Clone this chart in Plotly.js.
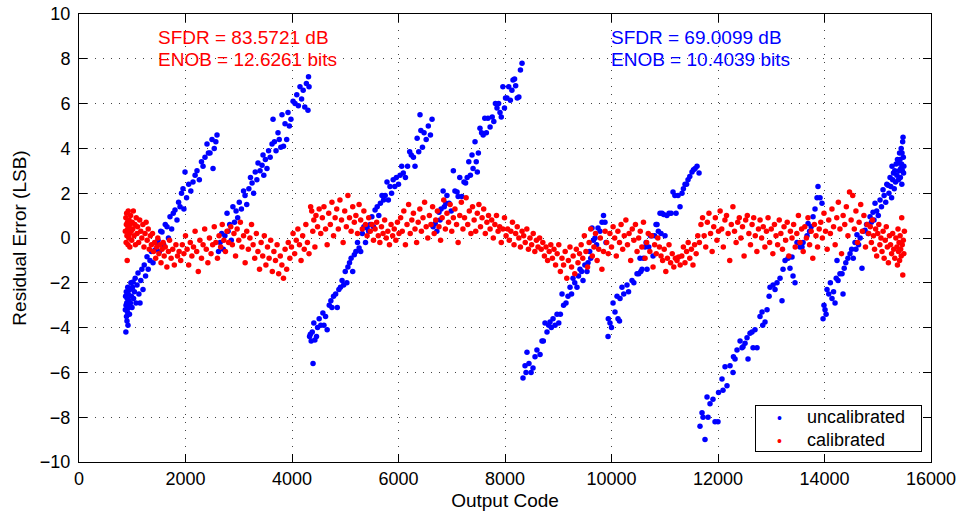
<!DOCTYPE html>
<html>
<head>
<meta charset="utf-8">
<script src="https://cdn.plot.ly/plotly-3.0.1.min.js"></script>
<style>html,body{margin:0;padding:0;background:#fff;}#chart{width:961px;height:514px;}</style>
</head>
<body>
<div id="chart"></div>
<script>
// ---- uncalibrated residual error (blue), [output code, LSB] ----
const uncalSeg1 = [[870,-3.2],[875,-2.6],[880,-4.2],[883,-3.0],[888,-2.4],[892,-3.5],[896,-2.9],[901,-3.7],[905,-2.7],[910,-3.3],[915,-2.2],[920,-3.9],[925,-2.5],[932,-3.1],[940,-2.8],[948,-3.4],[958,-2.3],[966,-2.9],[975,-2.0],[985,-2.6],[995,-3.1],[1005,-2.2],[1014,-1.96],[1025,-2.7],[1040,-2.4],[1055,-1.8],[1070,-2.9],[1090,-2.1],[1108,-1.56],[1125,-2.5],[1146,-2.9],[1160,-1.9],[1180,-1.4],[1202,-2.3],[1225,-1.2],[1250,-1.7],[1277,-0.84],[1300,-1.4],[1333,-1.0],[1360,-0.6],[1390,-1.1],[1427,-0.54],[1455,-0.2],[1484,-0.1],[1510,-0.6],[1535,0.3],[1559,0.27],[1590,-0.3],[1620,0.6],[1653,0.5],[1680,0.0],[1709,0.95],[1740,0.4],[1770,1.1],[1803,1.25],[1840,0.8],[1870,1.6],[1897,1.4],[1925,2.0],[1953,2.2],[1970,1.3],[1991,2.95],[2020,1.8],[2060,2.4],[2100,2.1],[2141,2.5],[2180,2.8],[2216,3.0],[2260,2.6],[2300,3.4],[2329,3.2],[2366,3.6],[2404,4.2],[2430,3.8],[2460,3.8],[2498,4.4],[2517,3.1],[2540,4.0],[2570,4.3],[2592,4.6]];
const uncalSeg2 = [[2620,-0.6],[2650,-0.2],[2680,0.2],[2710,-0.5],[2740,0.1],[2780,1.1],[2800,0.3],[2830,0.6],[2860,-0.1],[2890,1.4],[2920,0.7],[2950,1.2],[2980,0.9],[3010,1.6],[3050,1.3],[3090,2.1],[3118,1.9],[3150,1.5],[3190,2.2],[3220,2.7],[3250,2.45],[3280,2.0],[3310,2.95],[3340,2.6],[3362,3.35],[3400,3.0],[3437,3.25],[3456,3.7],[3470,2.8],[3500,3.5],[3530,3.1],[3560,3.9],[3590,3.6],[3625,4.2],[3644,5.3],[3670,4.3],[3700,3.9],[3737,4.7],[3760,4.4],[3790,4.05],[3812,5.5],[3840,4.1],[3869,5.1],[3900,4.4],[3925,5.6],[3950,5.0],[3980,5.3],[4020,6.1],[4057,6.0],[4090,6.4],[4120,5.9],[4150,6.75],[4180,6.2],[4210,6.6],[4240,5.85],[4270,6.9],[4300,5.7],[4310,7.2],[4320,6.75]];
const uncalSeg3 = [[4330,-4.4],[4345,-4.3],[4360,-4.6],[4380,-4.2],[4395,-5.6],[4410,-3.8],[4430,-4.55],[4460,-4.4],[4480,-4.0],[4510,-3.6],[4540,-3.9],[4580,-3.35],[4600,-3.9],[4630,-3.5],[4660,-4.1],[4700,-3.0],[4730,-2.8],[4750,-3.1],[4780,-2.6],[4820,-2.5],[4850,-3.1],[4880,-2.3],[4910,-2.2],[4940,-1.9],[4970,-2.1],[5000,-1.5],[5030,-2.0],[5050,-1.3],[5080,-1.1],[5110,-0.9],[5140,-1.5],[5170,-0.75],[5200,-0.6],[5230,-0.2],[5260,-0.45],[5290,-0.6],[5320,0.2],[5350,0.5],[5380,-0.2],[5410,0.45],[5440,0.3],[5470,0.6],[5500,0.95],[5530,0.5],[5560,1.25],[5600,1.4],[5630,1.0],[5660,1.55],[5690,1.9],[5720,1.7],[5750,1.9],[5784,2.5],[5810,1.7],[5840,2.3],[5870,2.0],[5900,2.6],[5930,2.3],[5960,2.7],[6000,2.4],[6030,2.8],[6060,3.2],[6090,2.9],[6130,2.7],[6170,3.2],[6210,3.85],[6240,3.7],[6280,3.6],[6310,3.2],[6350,4.45],[6380,3.85],[6404,5.5],[6420,4.8],[6450,4.05],[6480,4.7],[6520,4.4],[6560,5.0],[6600,4.6],[6630,5.3]];
const uncalSeg4 = [[6650,0.5],[6690,0.65],[6720,0.3],[6760,1.15],[6780,0.8],[6800,1.3],[6838,2.1],[6860,1.4],[6890,1.55],[6910,1.9],[6950,1.55],[6990,1.2],[7030,3.0],[7060,2.1],[7100,2.05],[7120,1.85],[7150,2.7],[7190,1.85],[7230,2.5],[7260,2.45],[7290,2.7],[7320,3.4],[7350,2.8],[7380,3.7],[7400,3.1],[7437,4.3],[7460,3.4],[7480,2.95],[7500,3.8],[7530,4.9],[7560,4.7],[7590,4.6],[7620,5.35],[7650,4.7],[7680,5.35],[7720,4.95],[7760,5.4],[7790,5.2],[7820,6.0],[7850,5.8],[7880,6.0],[7906,5.6],[7930,5.4],[7960,6.75],[7990,5.8],[8010,6.25],[8037,6.25],[8070,6.75],[8100,6.15],[8130,6.6],[8150,7.05],[8180,7.1],[8200,6.8],[8230,6.25],[8260,6.3],[8290,7.5],[8320,7.8]];
const uncalSeg5 = [[8338,-6.25],[8376,-5.7],[8395,-6.0],[8413,-5.1],[8450,-5.6],[8490,-6.0],[8526,-5.8],[8564,-5.3],[8600,-5.0],[8658,-5.2],[8695,-4.6],[8720,-4.6],[8751,-3.8],[8789,-4.2],[8820,-3.9],[8845,-3.75],[8870,-4.0],[8902,-3.6],[8940,-3.9],[8977,-3.4],[9010,-3.8],[9040,-3.4],[9071,-2.5],[9100,-3.0],[9146,-2.9],[9183,-2.6],[9221,-2.2],[9250,-2.5],[9277,-1.8],[9310,-2.0],[9352,-2.2],[9380,-1.7],[9409,-1.4],[9440,-1.5],[9465,-1.9],[9500,-1.2],[9540,-1.5],[9559,-1.1],[9590,-0.6],[9610,-0.9],[9634,0.45],[9660,-0.1],[9690,0.0],[9720,-0.3],[9747,0.45],[9784,0.3],[9822,0.7],[9850,1.0],[9878,0.7],[9897,-0.2]];
const uncalSeg6 = [[9935,-4.4],[9940,-3.6],[9972,-3.8],[10000,-4.0],[10029,-2.9],[10066,-3.3],[10104,-2.6],[10122,-3.6],[10150,-3.7],[10160,-2.7],[10197,-2.2],[10230,-2.5],[10291,-2.1],[10320,-2.4],[10385,-1.9],[10420,-2.0],[10479,-1.6],[10510,-1.6],[10536,-0.9],[10550,-1.5],[10573,-1.4],[10600,-0.9],[10630,-0.4],[10650,-0.2],[10667,-1.4],[10700,-0.4],[10730,0.1],[10761,0.1],[10780,-0.8],[10810,0.1],[10836,0.6],[10855,0.6],[10880,0.3],[10911,1.1],[10930,0.2],[10949,1.1],[10980,1.05],[11005,0.1],[11040,1.0],[11080,1.1],[11120,1.1],[11155,2.05],[11190,1.9],[11212,1.1],[11250,1.9],[11287,1.4],[11324,2.0],[11350,2.2],[11381,2.4],[11410,2.4],[11437,2.6],[11470,2.75],[11512,2.95],[11540,3.05],[11570,3.1],[11606,3.2],[11644,2.9]];
const uncalSeg7 = [[11662,-8.4],[11700,-7.8],[11719,-8.0],[11756,-9.0],[11794,-7.1],[11813,-8.0],[11850,-7.4],[11906,-7.2],[11944,-8.2],[12000,-8.2],[12010,-6.9],[12075,-6.3],[12094,-6.8],[12132,-5.75],[12169,-6.6],[12226,-5.7],[12282,-6.0],[12290,-5.3],[12320,-5.4],[12357,-5.0],[12414,-4.6],[12451,-4.9],[12470,-4.85],[12508,-4.7],[12545,-4.45],[12564,-5.4],[12601,-4.25],[12639,-4.2],[12658,-4.9],[12695,-4.1],[12733,-4.9],[12789,-3.5],[12827,-3.3],[12840,-3.9],[12883,-3.75],[12921,-3.2],[12960,-2.6],[12977,-2.2],[13034,-2.1],[13071,-2.3],[13108,-2.0],[13165,-1.8],[13202,-2.8],[13221,-1.4],[13259,-1.0],[13315,-0.9],[13352,-1.35],[13390,-0.85],[13409,-1.7],[13446,-2.0],[13484,-0.2],[13540,-0.4],[13578,-0.4],[13597,-0.2],[13672,0.1],[13691,0.65],[13720,0.3],[13750,0.5],[13785,0.95],[13822,1.3],[13860,1.8],[13878,2.3],[13916,1.8],[13953,1.55]];
const uncalSeg8 = [[13973,-3.6],[13990,-3.0],[14010,-3.2],[14030,-3.4],[14047,-2.3],[14080,-2.5],[14110,-2.0],[14141,-2.7],[14170,-2.4],[14198,-2.9],[14220,-1.8],[14235,-1.0],[14254,-1.9],[14290,-1.6],[14329,-1.6],[14348,-2.5],[14370,-1.35],[14400,-1.1],[14440,-0.9],[14479,-0.7],[14510,-0.5],[14540,-0.9],[14573,-0.2],[14590,-0.5],[14610,0.15],[14640,-0.3],[14670,0.0],[14704,-1.35],[14730,0.3],[14761,0.35],[14790,0.6],[14820,0.2],[14855,0.95],[14880,0.7],[14911,1.15],[14930,0.8],[14949,1.55],[14980,1.2],[15010,1.0],[15043,1.7],[15070,1.4],[15099,2.15],[15120,1.9],[15150,1.6],[15170,2.4],[15193,2.35],[15210,2.0],[15231,2.7],[15245,2.3],[15260,1.8],[15268,3.2],[15280,2.6],[15295,2.9],[15310,2.2],[15320,3.0],[15335,2.5],[15345,3.3],[15360,2.8],[15370,3.5],[15381,3.35],[15390,2.6],[15400,3.0],[15410,3.8],[15418,3.5],[15425,2.7],[15432,3.1],[15440,4.0],[15446,3.3],[15452,2.4],[15456,3.8],[15462,3.0],[15468,4.3],[15475,4.5],[15480,3.6],[15485,2.9],[15490,3.2]];

// ---- calibrated residual error (red), [output code, LSB] ----
const calA = [[870,0.3],[880,0.9],[885,-0.2],[890,0.6],[895,1.1],[900,0.1],[905,-1.0],[910,0.7],[915,0.4],[920,-0.3],[925,1.2],[930,0.5],[935,0.0],[940,0.8],[950,0.2],[955,-0.4],[960,0.6],[970,1.0],[980,0.3],[990,-0.1],[1000,0.7],[1010,0.4],[1020,1.2],[1035,0.1],[1050,0.6],[1060,-0.3],[1075,0.9],[1090,0.2],[1100,0.5],[1120,-0.2],[1140,0.8],[1160,0.3],[1180,0.0],[1200,0.6],[1220,-0.4],[1240,0.2],[1260,0.7],[1280,-0.1],[1300,0.4],[1320,-0.5],[1340,0.1],
[1360,-0.3],[1380,0.2],[1400,-0.6],[1420,-0.2],[1440,-0.9],[1460,-0.4],[1480,0.0],[1500,-0.7],[1520,-0.3],[1540,-1.1],[1560,-0.5],[1580,-0.2],[1600,-0.8],[1620,-0.4],[1650,-1.3],[1680,-0.6],[1700,-0.1],[1730,-0.9],[1760,-0.5],[1790,-1.2],[1820,-0.3],[1850,-0.8],[1880,-0.6],
[1910,-1.0],[1940,-0.3],[1970,-0.7],[2000,0.1],[2030,-0.5],[2060,-1.2],[2090,-0.2],[2120,-0.8],[2150,-0.4],[2180,0.3],[2210,-0.6],[2240,-1.5],[2270,-0.1],[2300,-0.9],[2330,-0.3],[2360,0.4],[2390,-0.5],[2420,-1.1],[2450,0.0],[2480,-0.7],[2510,-0.3],[2540,0.5],[2570,-0.2],[2600,-0.9],[2630,0.1],[2660,-0.4],[2690,0.6],[2720,-0.1],[2750,-0.6],[2780,0.3],[2810,-0.2]];
const calB = [[2850,0.5],[2880,-0.3],[2910,0.2],[2940,-0.8],[2970,0.4],[3000,-0.1],[3030,0.7],[3060,-0.4],[3090,0.1],[3120,-1.1],[3150,0.3],[3180,-0.5],[3210,0.0],[3240,0.6],[3270,-0.3],[3300,-0.9],[3330,0.2],[3360,-0.6],[3390,-1.4],[3420,-0.2],[3450,-0.8],[3480,0.1],[3510,-1.2],[3540,-0.4],[3570,-0.9],[3600,-0.1],[3630,-1.5],[3660,-0.6],[3690,-1.0],[3720,-0.3],[3750,-1.6],[3780,-0.8],[3810,-1.2],[3840,-1.8],[3870,-0.5],[3900,-1.4],[3930,-0.2],[3960,-0.9],
[3990,-0.4],[4020,0.2],[4050,-0.7],[4080,-0.1],[4110,0.4],[4140,-0.3],[4170,-1.0],[4200,0.1],[4230,-0.5],[4260,0.6],[4290,-0.2],[4320,-0.7],[4350,1.4],[4370,1.2],[4390,0.3],[4410,0.8],[4430,-0.4],[4450,1.0],[4480,0.5],
[4510,1.3],[4540,0.2],[4570,0.9],[4600,1.4],[4630,0.4],[4660,-0.3],[4690,1.1],[4720,0.6],[4750,1.6],[4780,0.1],[4810,0.9],[4840,1.3],[4870,0.4],[4900,1.7],[4930,0.8],[4960,-0.2],[4990,1.2],[5020,0.5],[5050,1.9],[5080,0.9],[5110,0.3],[5140,1.4],[5170,0.7],[5200,1.0],[5230,0.2],[5260,1.5],[5290,0.8],[5320,0.4],[5350,1.2],[5380,0.6],[5410,0.1],[5440,0.9],
[5470,0.3],[5500,0.6],[5530,-0.1],[5560,0.4],[5590,0.7],[5620,0.1],[5650,-0.2],[5680,0.5],[5710,0.2],[5740,0.8],[5770,0.0],[5800,0.3],[5830,-0.3],[5860,0.6],[5890,0.1],[5920,0.4],[5950,-0.1],[5980,0.7],[6010,0.2]];
const calC = [[6040,0.9],[6070,0.3],[6100,1.2],[6130,-0.3],[6160,0.6],[6190,1.5],[6220,0.2],[6250,0.8],[6280,1.1],[6310,0.4],[6340,-0.2],[6370,0.7],[6400,1.3],[6430,0.3],[6460,0.9],[6490,1.6],[6520,0.5],[6550,0.0],[6580,1.0],[6610,0.6],[6640,1.4],[6670,0.2],[6700,0.8],[6730,1.2],[6760,0.5],[6790,-0.1],[6820,0.9],[6850,1.7],[6880,0.4],[6910,1.1],[6940,0.7],[6970,1.5],[7000,0.3],[7030,0.9],[7060,1.3],[7090,0.6],[7120,-0.2],
[7150,1.0],[7180,1.6],[7210,0.4],[7240,0.9],[7270,1.8],[7300,0.6],[7330,1.2],[7360,0.2],[7390,1.4],[7420,0.8],[7450,0.3],[7480,1.1],[7510,1.5],[7540,0.5],[7570,0.9],[7600,1.3],[7630,0.2],[7660,0.7],[7690,1.0],[7720,0.4],[7750,0.8],[7780,0.0],[7810,0.6],[7840,1.0],[7870,0.3],
[7900,0.5],[7930,-0.2],[7960,0.4],[7990,0.9],[8020,0.1],[8050,0.4],[8080,-0.1],[8110,0.3],[8140,0.7],[8170,-0.3],[8200,0.2],[8230,0.5],[8260,0.0],[8290,-0.4],[8320,0.3],[8350,0.1],[8380,-0.2],[8410,0.4],[8440,-0.5],[8470,0.0],[8500,-0.3],[8530,0.2],[8560,-0.6],[8590,-0.1],[8620,-0.4],[8650,0.0],
[8680,-0.5],[8710,-0.2],[8740,-0.8],[8770,-0.4],[8800,-1.0],[8830,-0.6],[8860,-0.3],[8890,-0.9],[8920,-0.5],[8950,-1.2],[8980,-0.7],[9010,-0.3],[9040,-1.5],[9070,-0.9],[9100,-1.2],[9130,-0.6],[9160,-1.8],[9190,-1.0],[9220,-0.4],[9250,-1.3],[9280,-0.8],[9310,-1.6],[9340,-0.5],[9370,-1.1],[9400,-0.7]];
const calD = [[9430,-0.3],[9460,-0.9],[9490,0.1],[9520,-0.6],[9550,-1.3],[9580,-0.2],[9610,0.4],[9640,-0.8],[9670,-0.4],[9700,0.2],[9730,-1.0],[9760,-0.5],[9790,0.0],[9820,-1.4],[9850,-0.6],[9880,0.3],[9910,-0.2],[9940,-0.7],
[9970,0.2],[10000,-0.4],[10030,0.5],[10060,0.0],[10090,-0.8],[10120,0.3],[10150,-0.2],[10180,0.6],[10210,-0.5],[10240,0.1],[10270,0.8],[10300,-0.3],[10330,0.2],[10360,-1.0],[10390,0.4],[10420,-0.1],[10450,0.6],[10480,-0.6],[10510,0.0],[10540,0.3],[10570,-0.4],[10600,0.7],[10630,-0.9],[10660,-0.2],[10690,0.2],[10720,-0.6],[10750,0.1],[10780,-1.3],[10810,-0.3],[10840,-0.7],[10870,0.0],
[10900,-0.4],[10930,-0.8],[10960,-1.0],[10990,-0.5],[11020,-1.5],[11050,-0.9],[11080,-0.3],[11110,-1.1],[11140,-0.7],[11170,-1.3],[11200,-0.9],[11230,-1.0],[11260,-0.85],[11290,-1.2],[11320,-0.8],[11350,-0.4],[11380,-1.1],[11410,-0.6],[11440,-0.2],[11470,-0.9],[11500,-0.5],[11530,-1.2],[11560,-0.3],[11590,-0.7],[11620,0.1]];
const calE = [[11650,-0.2],[11680,0.6],[11710,0.9],[11740,0.1],[11770,-0.4],[11800,0.7],[11830,1.1],[11860,0.2],[11890,-0.6],[11920,0.5],[11950,0.9],[11980,-0.1],[12010,0.3],[12040,1.2],[12070,0.4],[12100,-0.4],[12130,0.8],[12160,1.0],[12190,0.2],[12220,-1.0],[12250,0.6],[12280,1.4],[12310,0.3],[12340,-0.2],[12370,0.7],[12400,0.9],[12430,0.0],[12460,0.5],[12490,-0.8],[12520,0.8],[12550,1.0],[12580,0.2],[12610,-0.3],[12640,0.6],[12670,0.9],[12700,0.1],[12730,-0.6],[12760,0.4],
[12790,0.8],[12820,0.0],[12850,0.5],[12880,-0.4],[12910,0.3],[12940,0.9],[12970,-0.2],[13000,0.4],[13030,-0.7],[13060,0.6],[13090,0.1],[13120,-0.3],[13150,0.8],[13180,0.2],[13210,-0.5],[13240,0.5],[13270,-0.1],[13300,0.7],[13330,-0.8],[13360,0.3],[13390,0.0],[13420,0.6],[13450,-0.4],[13480,0.2],[13510,1.0],[13540,-0.2],[13570,0.4],[13600,-0.6],[13630,0.5],[13660,0.0],[13690,0.9],[13720,-0.3],[13750,0.3],[13780,-0.9],[13810,0.6],[13840,0.1],[13870,-0.4],[13900,0.4]];
const calF = [[13930,0.7],[13960,0.0],[13990,1.1],[14020,0.3],[14050,-0.5],[14080,0.8],[14110,0.2],[14140,1.3],[14170,0.5],[14200,-0.3],[14230,0.9],[14260,1.6],[14290,0.4],[14320,-0.7],[14350,1.0],[14380,0.6],[14410,1.4],[14440,0.1],[14470,2.05],[14500,0.8],[14530,1.9],[14560,0.4],[14590,1.2],[14620,-0.2],[14650,0.7],[14680,1.5],[14710,0.3],[14740,1.0],[14770,-0.4],[14800,0.6],[14830,0.2],
[14860,0.5],[14880,-0.2],[14900,0.8],[14920,0.1],[14940,-0.5],[14960,0.4],[14980,-0.8],[15000,0.2],[15020,0.6],[15040,-0.3],[15060,0.0],[15080,-0.6],[15100,0.3],[15120,-0.9],[15140,-0.1],[15160,0.5],[15180,-0.4],[15200,-1.1],[15220,0.1],[15240,-0.3],[15260,-0.7],[15280,0.2],[15300,-0.5],[15320,-0.9],[15340,0.0],[15360,-0.4],[15370,-1.2],[15380,0.4],[15390,-0.6],[15400,-0.2],[15410,-1.0],[15420,0.1],[15430,-0.5],[15440,-0.8],[15450,0.9],[15460,-0.3],[15470,-1.65],[15480,-0.1],[15490,-0.7],[15500,0.3]];

const xTicks = [0,2000,4000,6000,8000,10000,12000,14000,16000];
const yTicks = [-10,-8,-6,-4,-2,0,2,4,6,8,10];
const seriesNames = ['uncalibrated','calibrated'];
const seriesColors = ['#0000ff','#ff0000'];
const labelsRed = ['SFDR = 83.5721 dB','ENOB = 12.6261 bits'];
const labelsBlue = ['SFDR = 69.0099 dB','ENOB = 10.4039 bits'];
const labelX = [1500, 10000];
const labelY = [9, 8];

const uncal = [].concat(uncalSeg1,uncalSeg2,uncalSeg3,uncalSeg4,uncalSeg5,uncalSeg6,uncalSeg7,uncalSeg8);
const cal = [].concat(calA,calB,calC,calD,calE,calF);

const FONT = 'Liberation Sans, Arial, Helvetica, sans-serif';
const traces = [
  {type:'scatter', mode:'markers', name:seriesNames[0], x:uncal.map(p=>p[0]), y:uncal.map(p=>p[1]),
   marker:{color:seriesColors[0], size:5.5}},
  {type:'scatter', mode:'markers', name:seriesNames[1], x:cal.map(p=>p[0]), y:cal.map(p=>p[1]),
   marker:{color:seriesColors[1], size:5.5}}
];

const ann = [];
[labelsRed, labelsBlue].forEach((lbls, k) => {
  lbls.forEach((t, i) => ann.push({x:labelX[k], y:labelY[i], xref:'x', yref:'y', text:t, showarrow:false,
    xanchor:'left', yanchor:'middle', xshift:-3, yshift:-1,
    font:{family:FONT, size:19, color: k===0 ? '#ff0000' : '#0000ff'}}));
});

// legend box (MATLAB-style compact legend) as a bordered text block
const NB = '\u00a0';
const legendLines = seriesNames.map((n, i) =>
  NB.repeat(4) + '<span style="color:' + seriesColors[i] + ';font-size:14px">\u2022</span>' + NB.repeat(5) + n + (i===0 ? NB.repeat(3) : ''));
ann.push({xref:'paper', yref:'paper', x:0.9894, y:0.0223, xanchor:'right', yanchor:'bottom',
  text:legendLines.join('<br>'), align:'left', showarrow:false,
  bordercolor:'#000', borderwidth:1, borderpad:1, bgcolor:'#fff',
  font:{family:FONT, size:18, color:'#000'}});

const axisCommon = {
  showline:true, linecolor:'#000', linewidth:1, mirror:'ticks',
  ticks:'inside', ticklen:8, tickcolor:'#000', tickwidth:1,
  showgrid:true, gridcolor:'#444', gridwidth:1, griddash:'1px,7px',
  zeroline:false, tickfont:{family:FONT, size:18, color:'#000'}
};

const layout = {
  width:961, height:514,
  margin:{l:79, r:30, t:14, b:52, pad:0},
  paper_bgcolor:'#fff', plot_bgcolor:'#fff',
  font:{family:FONT, size:18, color:'#000'},
  showlegend:false,
  xaxis:Object.assign({}, axisCommon, {range:[0,16000], tickvals:xTicks, ticktext:xTicks.map(String),
    title:{text:'Output Code', font:{family:FONT, size:19}, standoff:6}}),
  yaxis:Object.assign({}, axisCommon, {range:[-10,10], tickvals:yTicks, ticktext:yTicks.map(v=> v<0 ? '\u2212'+Math.abs(v) : String(v)),
    ticklabelstandoff:4, title:{text:'Residual Error (LSB)', font:{family:FONT, size:19}, standoff:8}}),
  annotations:ann
};

Plotly.newPlot('chart', traces, layout, {displayModeBar:false, staticPlot:true});
</script>
</body>
</html>
